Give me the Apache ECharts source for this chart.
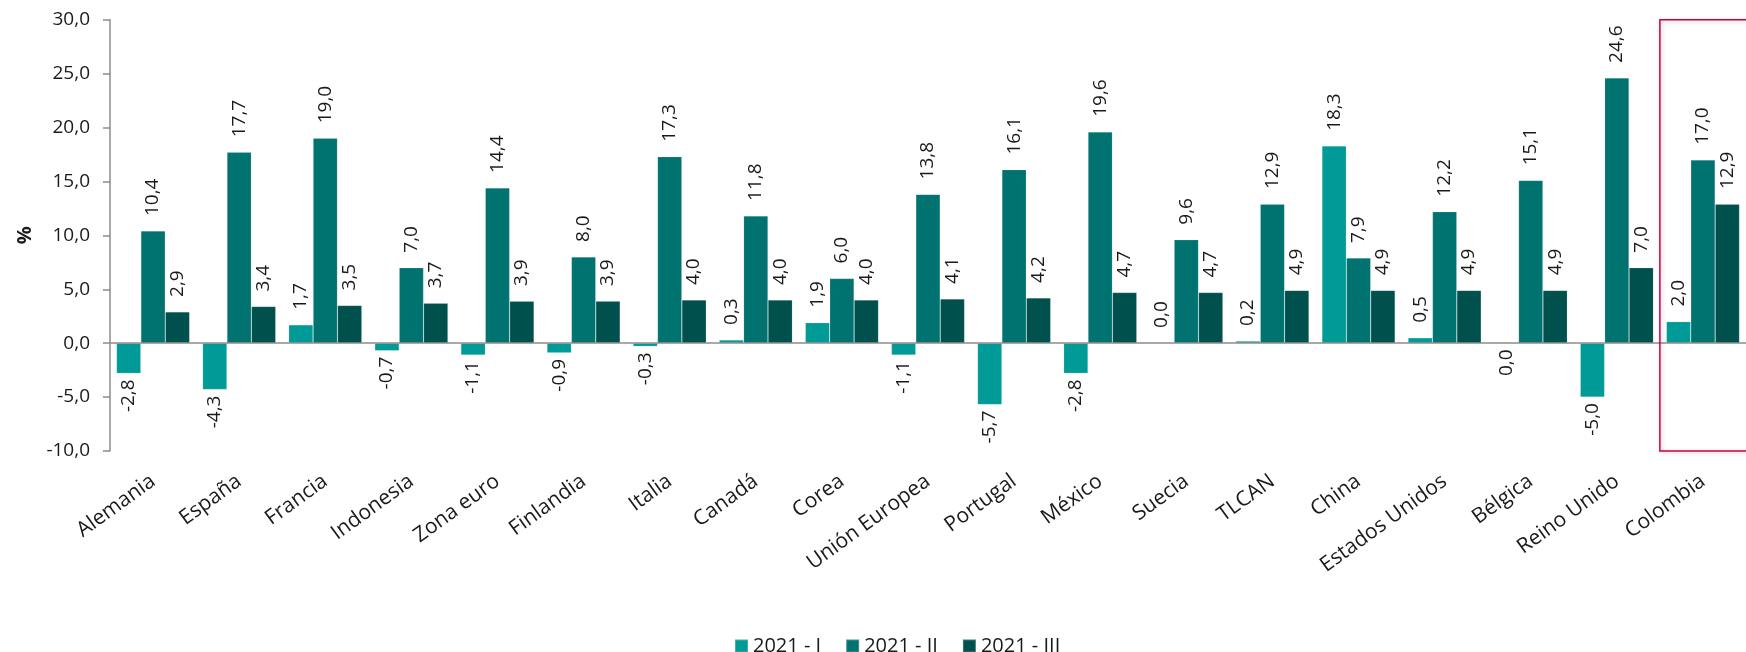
<!DOCTYPE html>
<html>
<head>
<meta charset="utf-8">
<script src="https://cdn.jsdelivr.net/npm/echarts@6/dist/echarts.min.js"></script>
<style>
html,body{margin:0;padding:0;background:#fff;}
#chart{width:1746px;height:652px;}
</style>
</head>
<body>
<div id="chart"></div>
<script>
const categories = ['Alemania','España','Francia','Indonesia','Zona euro','Finlandia','Italia','Canadá','Corea','Unión Europea','Portugal','México','Suecia','TLCAN','China','Estados Unidos','Bélgica','Reino Unido','Colombia'];
const seriesNames = ['2021 - I','2021 - II','2021 - III'];
const q1 = [-2.8,-4.3,1.7,-0.7,-1.1,-0.9,-0.3,0.3,1.9,-1.1,-5.7,-2.8,0.0,0.2,18.3,0.5,-0,-5.0,2.0];
const q2 = [10.4,17.7,19.0,7.0,14.4,8.0,17.3,11.8,6.0,13.8,16.1,19.6,9.6,12.9,7.9,12.2,15.1,24.6,17.0];
const q3 = [2.9,3.4,3.5,3.7,3.9,3.9,4.0,4.0,4.0,4.1,4.2,4.7,4.7,4.9,4.9,4.9,4.9,7.0,12.9];
const yTicks = {min:-10, max:30, interval:5};
const colors = ['#009a97','#007371','#00504d'];
const highlighted = 'Colombia';

const FONT = "'Open Sans', 'Noto Sans', sans-serif";
const fmt = v => Number(v).toFixed(1).replace('.', ',');
const isNeg = v => v < 0 || Object.is(v, -0);

function toData(arr){
  return arr.map(v => {
    const neg = isNeg(v);
    return {
      value: v,
      label: {
        position: neg ? 'bottom' : 'top',
        align: neg ? 'right' : 'left',
        distance: neg ? 6 : 15
      }
    };
  });
}

const chart = echarts.init(document.getElementById('chart'), null, {renderer:'canvas'});
const all = [q1,q2,q3];
const series = all.map((arr,i) => ({
  name: seriesNames[i],
  type: 'bar',
  data: toData(arr),
  barGap: '0%',
  barCategoryGap: '15%',
  itemStyle: {color: colors[i], borderColor: 'rgba(255,255,255,0.25)', borderWidth: 0.6},
  label: {
    show: true,
    rotate: 90,
    verticalAlign: 'middle',
    fontFamily: FONT,
    fontSize: 19,
    color: '#1a1a1a',
    formatter: p => fmt(p.value)
  },
  markLine: i === 0 ? {
    silent: true,
    symbol: ['none','none'],
    label: {show:false},
    lineStyle: {color:'#8c8c8c', width:1.5, type:'solid'},
    data: [{yAxis: 0}],
    z: 5
  } : undefined
}));

chart.setOption({
  animation: false,
  textStyle: {fontFamily: FONT},
  grid: {left: 110, top: 19.7, width: 1643.5, height: 431.3},
  legend: {
    data: seriesNames,
    top: 631,
    left: 729,
    icon: 'rect',
    itemWidth: 13,
    itemHeight: 13,
    itemGap: 24,
    textStyle: {fontFamily: FONT, fontSize: 20, color: '#1a1a1a'}
  },
  xAxis: {
    type: 'category',
    data: categories,
    axisLine: {show: false, onZero: false},
    axisTick: {show: false},
    axisLabel: {
      rotate: 36,
      margin: 28,
      interval: 0,
      fontFamily: FONT,
      fontSize: 21,
      color: '#1a1a1a'
    }
  },
  yAxis: {
    type: 'value',
    min: yTicks.min,
    max: yTicks.max,
    interval: yTicks.interval,
    name: '%',
    nameLocation: 'middle',
    nameGap: 72,
    nameRotate: 90,
    nameTextStyle: {fontFamily: FONT, fontSize: 20, fontWeight: 'bold', color: '#1a1a1a'},
    axisLine: {show: true, lineStyle: {color: '#8c8c8c', width: 1.5}},
    axisTick: {show: true, length: 7, lineStyle: {color: '#8c8c8c', width: 1.5}},
    splitLine: {show: false},
    axisLabel: {
      margin: 20,
      fontFamily: FONT,
      fontSize: 19,
      color: '#1a1a1a',
      formatter: v => fmt(v)
    }
  },
  series: series
});

// highlight box around the highlighted category, computed through the axes
const idx = categories.indexOf(highlighted);
const cx = chart.convertToPixel({xAxisIndex: 0}, highlighted);
const cxPrev = chart.convertToPixel({xAxisIndex: 0}, categories[idx - 1]);
const band = cx - cxPrev;
const yTop = chart.convertToPixel({yAxisIndex: 0}, yTicks.max);
const yBot = chart.convertToPixel({yAxisIndex: 0}, yTicks.min);
chart.setOption({
  graphic: [{
    type: 'rect',
    silent: true,
    z: 100,
    shape: {x: cx - band / 2, y: yTop, width: band + 200, height: yBot - yTop},
    style: {
      fill: 'none',
      stroke: '#c8004c',
      lineWidth: 1.5,
      shadowBlur: 4,
      shadowColor: 'rgba(0,0,0,0.25)',
      shadowOffsetX: 1,
      shadowOffsetY: 1
    }
  }]
});
</script>
</body>
</html>
